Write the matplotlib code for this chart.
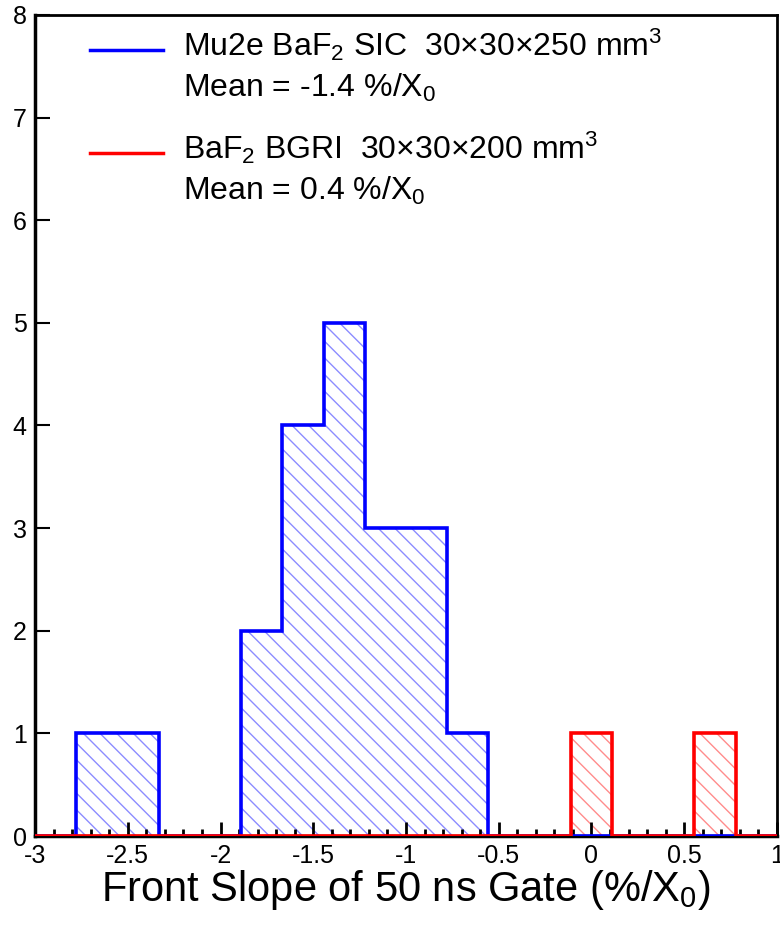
import matplotlib.pyplot as plt
from matplotlib.ticker import MultipleLocator
from matplotlib.lines import Line2D
import numpy as np

plt.rcParams['font.family'] = ['Liberation Sans', 'DejaVu Sans']
plt.rcParams['mathtext.fontset'] = 'custom'
plt.rcParams['mathtext.rm'] = 'Liberation Sans'
plt.rcParams['mathtext.it'] = 'Liberation Sans:italic'
plt.rcParams['hatch.linewidth'] = 1.0

# bin edges: 18 bins between -3 and 1
bin_lo, bin_hi, n_bins = -3.0, 1.0, 18
# counts per bin
sic_counts = [0, 1, 1, 0, 0, 2, 4, 5, 3, 3, 1, 0, 0, 0, 0, 0, 0, 0]
bgri_counts = [0, 0, 0, 0, 0, 0, 0, 0, 0, 0, 0, 0, 0, 1, 0, 0, 1, 0]

xticks = [-3, -2.5, -2, -1.5, -1, -0.5, 0, 0.5, 1]
xticklabels = ['-3', '-2.5', '-2', '-1.5', '-1', '-0.5', '0', '0.5', '1']
yticks = [0, 1, 2, 3, 4, 5, 6, 7, 8]

edges = np.linspace(bin_lo, bin_hi, n_bins + 1)

fig = plt.figure(figsize=(7.8, 9.3), dpi=100)
ax = fig.add_axes([0.045, 0.101, 0.951, 0.883])

# hatched fills
ax.stairs(sic_counts, edges, fill=True, facecolor='none', edgecolor='#8c8cff',
          linewidth=0, hatch='\\\\')
ax.stairs(bgri_counts, edges, fill=True, facecolor='none', edgecolor='#ff8c8c',
          linewidth=0, hatch='\\\\')
# outlines (red baseline sits on top of the axis line)
ax.stairs(sic_counts, edges, color='#0000ff', linewidth=2.6, zorder=3)
ax.stairs(bgri_counts, edges, color='#ff0000', linewidth=2.6, zorder=3.1)

ax.set_xlim(bin_lo, bin_hi)
ax.set_ylim(0, 8)
ax.set_xticks(xticks)
ax.set_xticklabels(xticklabels)
ax.set_yticks(yticks)
ax.xaxis.set_minor_locator(MultipleLocator(0.1))

ax.tick_params(axis='x', which='major', direction='in', length=10, width=2,
               labelsize=18, pad=6, top=False)
ax.tick_params(axis='x', which='minor', direction='in', length=5, width=2, top=False)
ax.tick_params(axis='y', which='major', direction='in', length=11, width=1.5,
               labelsize=18, pad=6, right=False)
for side in ['left', 'bottom']:
    ax.spines[side].set_linewidth(2.5)
for side in ['right', 'top']:
    ax.spines[side].set_linewidth(2.0)

ax.set_xlabel('Front Slope of 50 ns Gate (%/X$_\\mathregular{0}$)', fontsize=30, labelpad=0)

# legend-like annotation
ax.add_line(Line2D([0.074, 0.173], [0.957, 0.957], transform=ax.transAxes,
                   color='#0000ff', linewidth=2.5))
ax.add_line(Line2D([0.074, 0.173], [0.832, 0.832], transform=ax.transAxes,
                   color='#ff0000', linewidth=2.5))
ax.text(0.2, 0.963, 'Mu2e BaF$_\\mathregular{2}$ SIC  30×30×250 mm$^\\mathregular{3}$',
        transform=ax.transAxes, fontsize=23, va='center', ha='left')
ax.text(0.2, 0.911, 'Mean = -1.4 %/X$_\\mathregular{0}$',
        transform=ax.transAxes, fontsize=23, va='center', ha='left')
ax.text(0.2, 0.838, 'BaF$_\\mathregular{2}$ BGRI  30×30×200 mm$^\\mathregular{3}$',
        transform=ax.transAxes, fontsize=23, va='center', ha='left')
ax.text(0.2, 0.786, 'Mean = 0.4 %/X$_\\mathregular{0}$',
        transform=ax.transAxes, fontsize=23, va='center', ha='left')

fig.savefig('out.png', dpi=100)
